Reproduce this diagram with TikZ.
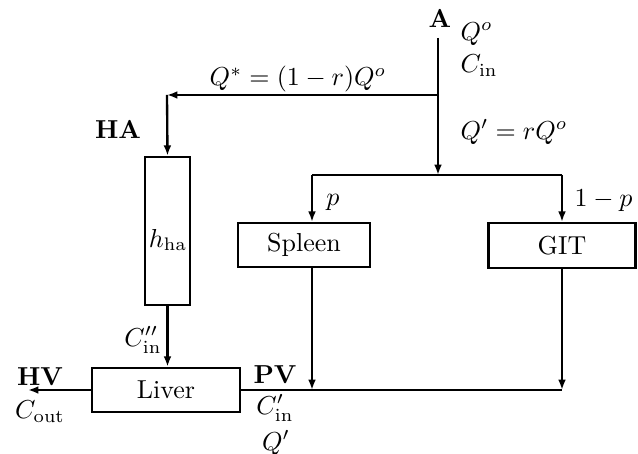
\documentclass[tikz,border=0pt]{standalone}
\usetikzlibrary{arrows.meta}
\begin{document}
\begin{tikzpicture}[x=0.385pt,y=-0.385pt,
  flow/.style={line width=0.9pt},
  arr/.style={flow,-{Latex[length=4pt,width=3pt]}},
  box/.style={draw,line width=0.9pt,inner sep=0pt}]
\useasboundingbox (0,0) rectangle (638,454);
% boxes
\node[box,minimum width=17.3pt,minimum height=57pt] (HA) at (167.5,231) {};
\node (hha) at (168,240) {$h_{\mathrm{ha}}$};
\node[box,minimum width=50.8pt,minimum height=16.9pt] (Spleen) at (304,245) {Spleen};
\node[box,minimum width=56.6pt,minimum height=17.3pt] (GIT) at (562,245.5) {GIT};
\node[box,minimum width=57pt,minimum height=17pt] (Liver) at (166,390) {Liver};
% junctions
\coordinate (Atop) at (438,38);
\coordinate (J1) at (438,95);
\coordinate (C1) at (167,95);
\coordinate (J2) at (438,175);
\coordinate (L) at (312,175);
\coordinate (R) at (562,175);
\coordinate (P1) at (312,390);
\coordinate (P2) at (562,390);
\coordinate (HVend) at (28,390);
% connectors
\draw[arr] (Atop) -- (J2);
\draw[arr] (J1) -- (C1);
\draw[arr] (C1) -- (HA.north);
\draw[flow] (L) -- (R);
\draw[arr] (L) -- (L |- Spleen.north);
\draw[arr] (R) -- (GIT.north);
\draw[arr] (L |- Spleen.south) -- (P1);
\draw[flow] (Liver.east) -- (P2);
\draw[arr] (GIT.south) -- (P2);
\draw[arr] (HA.south) -- (HA.south |- Liver.north);
\draw[arr] (Liver.west) -- (HVend);
% labels
\node (lA) at (440,18) {\textbf{A}};
\node[anchor=west,inner sep=0pt] (lQo) at (460,34) {$Q^o$};
\node[anchor=west,inner sep=0pt] (lCin) at (460,66) {$C_{\mathrm{in}}$};
\node (lQs) at (298,79) {$Q^* = (1-r)Q^o$};
\node[anchor=west,inner sep=0pt] (lQp) at (460,132) {$Q' = rQ^o$};
\node (lHA) at (118,129) {\textbf{HA}};
\node (lp) at (333,202) {$p$};
\node[anchor=west,inner sep=0pt] (l1p) at (574,201) {$1-p$};
\node (lCpp) at (143,340) {$C''_{\mathrm{in}}$};
\node (lHV) at (40,377) {\textbf{HV}};
\node (lCout) at (40,412) {$C_{\mathrm{out}}$};
\node[inner sep=0.5pt] (lPV) at (275,375) {\textbf{PV}};
\node[inner sep=0.5pt] (lCp) at (275,408) {$C'_{\mathrm{in}}$};
\node[inner sep=0.5pt] (lQ1) at (276,443) {$Q'$};
\end{tikzpicture}
\end{document}
